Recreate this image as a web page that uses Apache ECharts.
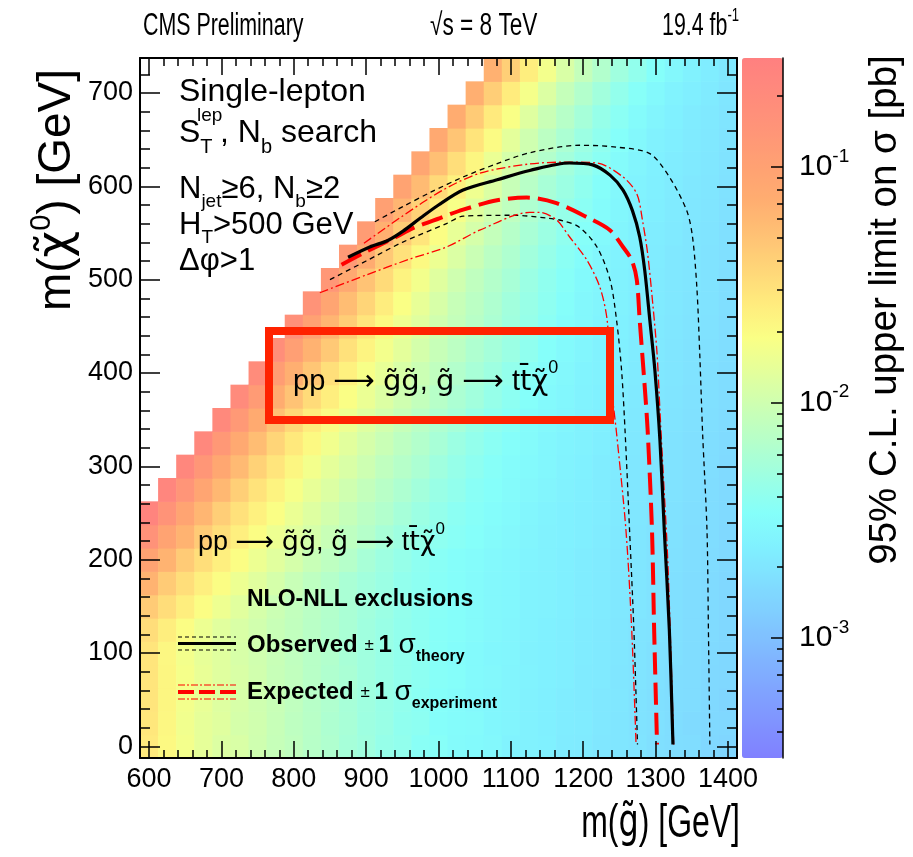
<!DOCTYPE html>
<html>
<head>
<meta charset="utf-8">
<script src="https://cdn.jsdelivr.net/npm/echarts@6/dist/echarts.min.js"></script>
<style>
html, body { margin: 0; padding: 0; background: #fff; }
#chart { width: 913px; height: 857px; }
</style>
</head>
<body>
<div id="chart"></div>
<script>
// bin centres (GeV)
const mgBins = [600, 625, 650, 675, 700, 725, 750, 775, 800, 825, 850, 875, 900, 925, 950, 975, 1000,
  1025, 1050, 1075, 1100, 1125, 1150, 1175, 1200, 1225, 1250, 1275, 1300, 1325, 1350, 1375, 1400]
const mlspBins = [0, 25, 50, 75, 100, 125, 150, 175, 200, 225, 250, 275, 300, 325, 350, 375, 400,
  425, 450, 475, 500, 525, 550, 575, 600, 625, 650, 675, 700, 725]

// 95% CL upper limit in fb, one row per m(LSP) bin, each row ends at m(gluino) = 1400
const limitFb = [
  [27, 21, 17, 14, 12, 11.5, 10, 8.8, 8.1, 7, 6.4, 5.5, 5.1, 4.4, 4.1, 3.6, 3.5, 3.1, 3.0, 2.9, 2.6, 2.5, 2.45, 2.25, 2.2, 2.05, 2.0, 1.95, 1.8, 1.75, 1.7, 1.55, 1.5],
  [28, 21.5, 16.5, 14, 12.8, 11, 10.2, 9, 7.8, 7.2, 6.2, 5.7, 4.9, 4.6, 4.0, 3.8, 3.3, 3.2, 3.1, 2.8, 2.7, 2.55, 2.4, 2.3, 2.25, 2.1, 2.0, 1.9, 1.85, 1.75, 1.65, 1.6, 1.55],
  [29, 22, 17, 14.5, 12.5, 11.2, 10, 9.1, 8, 7, 6.4, 5.6, 5.0, 4.5, 4.1, 3.7, 3.4, 3.2, 2.95, 2.85, 2.7, 2.5, 2.4, 2.3, 2.2, 2.1, 2.05, 1.9, 1.8, 1.75, 1.7, 1.6, 1.5],
  [29, 22, 17.5, 14.5, 12.8, 11.5, 10.3, 9, 8.2, 7.2, 6.4, 5.8, 5.1, 4.6, 4.1, 3.8, 3.5, 3.3, 3.0, 2.9, 2.7, 2.6, 2.45, 2.35, 2.2, 2.15, 2.0, 1.95, 1.85, 1.75, 1.7, 1.6, 1.55],
  [29, 21.5, 17, 14.2, 12.8, 11.3, 10.2, 9.1, 8.1, 7.2, 6.5, 5.7, 5.1, 4.6, 4.1, 3.8, 3.5, 3.25, 3.05, 2.85, 2.75, 2.55, 2.45, 2.35, 2.25, 2.15, 2.05, 1.95, 1.85, 1.8, 1.7, 1.62, 1.55],
  [33, 25, 19.5, 15.5, 13, 11.5, 10.3, 9.1, 8.2, 7.3, 6.5, 5.8, 5.1, 4.6, 4.15, 3.8, 3.5, 3.3, 3.1, 2.9, 2.75, 2.6, 2.45, 2.35, 2.25, 2.15, 2.05, 1.95, 1.9, 1.8, 1.7, 1.65, 1.55],
  [44, 33, 25, 19.5, 15.8, 13, 11, 9.5, 8.3, 7.4, 6.6, 5.8, 5.2, 4.7, 4.2, 3.85, 3.55, 3.3, 3.1, 2.9, 2.8, 2.6, 2.5, 2.4, 2.3, 2.2, 2.1, 2.0, 1.9, 1.8, 1.72, 1.65, 1.57],
  [65, 44, 32.5, 24.7, 19.5, 15.6, 13, 10.9, 9.1, 7.8, 6.8, 5.8, 5.2, 4.7, 4.15, 3.85, 3.55, 3.3, 3.1, 2.9, 2.8, 2.6, 2.5, 2.4, 2.3, 2.2, 2.1, 2.0, 1.9, 1.82, 1.72, 1.66, 1.56],
  [96, 65, 44, 32.5, 24.7, 19.5, 15.6, 13, 10.9, 9.1, 7.8, 6.8, 5.7, 4.9, 4.4, 3.9, 3.6, 3.35, 3.15, 2.95, 2.85, 2.65, 2.5, 2.4, 2.3, 2.2, 2.1, 2.0, 1.9, 1.85, 1.75, 1.68, 1.58],
  [156, 96, 65, 44, 32.5, 24.7, 19.5, 15.6, 13, 10.9, 9.1, 7.8, 6.8, 5.7, 4.9, 4.4, 3.9, 3.6, 3.4, 3.1, 2.9, 2.7, 2.55, 2.45, 2.35, 2.25, 2.12, 2.02, 1.92, 1.86, 1.76, 1.7, 1.6],
  [250, 150, 92, 62, 42, 31, 24, 19, 15, 12.5, 10.5, 8.8, 7.5, 6.5, 5.5, 4.75, 4.25, 3.75, 3.5, 3.25, 3.0, 2.75, 2.6, 2.48, 2.37, 2.27, 2.15, 2.05, 1.95, 1.88, 1.78, 1.72, 1.62],
  [240, 144, 89, 60, 41, 30, 23, 18, 14.4, 12, 10, 8.4, 7.2, 6.2, 5.3, 4.6, 4.1, 3.6, 3.4, 3.1, 2.9, 2.7, 2.55, 2.4, 2.28, 2.17, 2.05, 1.95, 1.9, 1.8, 1.72, 1.63],
  [230, 138, 85, 58, 39, 29, 22, 17, 13.8, 11.5, 9.7, 8.1, 6.9, 6.0, 5.1, 4.4, 3.9, 3.5, 3.2, 3.0, 2.8, 2.6, 2.45, 2.3, 2.2, 2.07, 1.97, 1.9, 1.8, 1.75, 1.63],
  [220, 132, 81, 55, 37, 27.5, 21, 16.5, 13.2, 11, 9.2, 7.7, 6.6, 5.7, 4.8, 4.2, 3.7, 3.3, 3.1, 2.85, 2.65, 2.5, 2.35, 2.22, 2.1, 2.0, 1.92, 1.82, 1.76, 1.65],
  [210, 126, 78, 52, 36, 26, 20, 15.8, 12.6, 10.5, 8.8, 7.4, 6.3, 5.5, 4.6, 4.0, 3.6, 3.2, 2.95, 2.75, 2.55, 2.4, 2.25, 2.12, 2.0, 1.95, 1.85, 1.78, 1.67],
  [200, 120, 74, 50, 34, 25, 19, 15, 12, 10, 8.4, 7.0, 6.0, 5.2, 4.4, 3.8, 3.4, 3.0, 2.8, 2.6, 2.45, 2.3, 2.15, 2.05, 1.97, 1.87, 1.8, 1.7],
  [190, 114, 70, 47.5, 32, 24, 18, 14.3, 11.4, 9.5, 8.0, 6.6, 5.7, 4.9, 4.2, 3.6, 3.2, 2.9, 2.65, 2.5, 2.35, 2.2, 2.08, 2.0, 1.9, 1.82, 1.72],
  [180, 108, 67, 45, 31, 22.5, 17, 13.5, 10.8, 9.0, 7.6, 6.3, 5.4, 4.7, 4.0, 3.4, 3.0, 2.75, 2.55, 2.4, 2.25, 2.12, 2.03, 1.92, 1.85, 1.74],
  [170, 102, 63, 42.5, 29, 21, 16, 12.8, 10.2, 8.5, 7.1, 6.0, 5.1, 4.4, 3.7, 3.2, 2.9, 2.65, 2.45, 2.3, 2.15, 2.05, 1.95, 1.88, 1.76],
  [150, 90, 55, 37.5, 25.5, 18.8, 14.3, 11.2, 9.0, 7.5, 6.3, 5.2, 4.5, 3.9, 3.3, 2.9, 2.7, 2.5, 2.35, 2.2, 2.08, 1.98, 1.9, 1.78],
  [135, 81, 50, 34, 23, 17, 12.8, 10.1, 8.1, 6.75, 5.7, 4.7, 4.0, 3.5, 3.0, 2.75, 2.5, 2.35, 2.2, 2.1, 2.0, 1.9, 1.78],
  [125, 75, 46, 31, 21, 15.6, 11.9, 9.4, 7.5, 6.25, 5.2, 4.4, 3.7, 3.25, 2.85, 2.6, 2.4, 2.25, 2.1, 2.0, 1.92, 1.8],
  [115, 69, 42.5, 29, 19.5, 14.4, 10.9, 8.6, 6.9, 5.75, 4.8, 4.0, 3.45, 3.0, 2.7, 2.45, 2.3, 2.15, 2.02, 1.95, 1.82],
  [105, 63, 39, 26, 18, 13, 10, 7.9, 6.3, 5.2, 4.4, 3.7, 3.15, 2.8, 2.5, 2.35, 2.2, 2.05, 1.98, 1.85],
  [95, 57, 35, 24, 16, 11.9, 9.0, 7.1, 5.7, 4.75, 4.0, 3.3, 2.9, 2.6, 2.4, 2.25, 2.1, 2.0, 1.88],
  [88, 53, 32.5, 22, 15, 11, 8.4, 6.6, 5.3, 4.4, 3.7, 3.1, 2.7, 2.45, 2.3, 2.15, 2.05, 1.92],
  [80, 48, 29.6, 20, 13.6, 10, 7.6, 6.0, 4.8, 4.0, 3.4, 2.9, 2.55, 2.35, 2.2, 2.1, 1.95],
  [74, 44, 27, 18.5, 12.6, 9.2, 7.0, 5.5, 4.4, 3.7, 3.1, 2.7, 2.45, 2.25, 2.12, 1.97],
  [70, 42, 26, 17.5, 12, 8.7, 6.6, 5.2, 4.2, 3.5, 2.95, 2.6, 2.35, 2.2, 2.0],
  [68, 41, 25, 17, 11.6, 8.5, 6.5, 5.1, 4.1, 3.4, 2.9, 2.55, 2.3, 2.1]
]

// exclusion contours [m(gluino), m(LSP)]
const observed = [[875, 524], [905, 535], [930, 542], [951, 552], [975, 566], [1000, 580], [1034, 596], [1081, 607],
  [1126, 617], [1181, 625], [1213, 623], [1237, 612], [1255, 596], [1268, 574], [1278, 546], [1285, 510],
  [1292, 457], [1299, 403], [1306, 328], [1312, 232], [1319, 125], [1324, 2]]
const observedUp = [[912, 562], [950, 578], [990, 594], [1034, 610], [1080, 624], [1126, 636], [1195, 644],
  [1246, 642], [1292, 635], [1319, 610], [1343, 574], [1351, 546], [1357, 492], [1361, 421], [1365, 335],
  [1371, 232], [1373, 125], [1375, 2]]
const observedDown = [[850, 500], [900, 520], [950, 540], [1011, 560], [1034, 568], [1103, 569], [1150, 566],
  [1172, 563], [1195, 556], [1219, 535], [1237, 500], [1246, 457], [1253, 403], [1258, 335], [1264, 232],
  [1270, 125], [1275, 2]]
const expected = [[866, 516], [895, 528], [942, 546], [964, 555], [1002, 566], [1034, 575], [1081, 585],
  [1122, 588], [1163, 582], [1205, 567], [1237, 553], [1255, 535], [1267, 521], [1274, 500], [1278, 457],
  [1285, 385], [1289, 339], [1295, 232], [1298, 125], [1302, 2]]
const expectedUp = [[897, 539], [950, 568], [1006, 596], [1057, 614], [1126, 624], [1181, 626], [1219, 625],
  [1255, 610], [1274, 592], [1282, 563], [1289, 528], [1296, 475], [1302, 421], [1306, 360], [1310, 300],
  [1317, 196], [1325, 2]]
const expectedDown = [[836, 486], [900, 505], [960, 522], [1011, 535], [1057, 553], [1126, 572], [1140, 572],
  [1163, 564], [1181, 546], [1205, 521], [1223, 492], [1233, 457], [1239, 385], [1246, 336], [1259, 232],
  [1267, 125], [1273, 2]]

const xTicks = [600, 700, 800, 900, 1000, 1100, 1200, 1300, 1400]
const yTicks = [0, 100, 200, 300, 400, 500, 600, 700]
const zDecades = [-3, -2, -1]
const zMinorPb = [4e-4, 5e-4, 6e-4, 7e-4, 8e-4, 9e-4, 2e-3, 3e-3, 4e-3, 5e-3, 6e-3, 7e-3, 8e-3, 9e-3,
  2e-2, 3e-2, 4e-2, 5e-2, 6e-2, 7e-2, 8e-2, 9e-2, 0.2]
const zRangePb = [3.1e-4, 0.29]

const palette = ['#8080ff', '#8093ff', '#80a5ff', '#80b8ff', '#80cbff', '#80ddff', '#80f0ff', '#85fffa',
  '#9cffe3', '#b4ffcb', '#cbffb4', '#e3ff9c', '#faff85', '#ffeb7d', '#ffd578', '#ffc074', '#ffac70',
  '#ffa073', '#ff9478', '#ff8a7c', '#ff8080']

const FONT = "'Liberation Sans', Arial, Helvetica, sans-serif"
const GREEK = "'DejaVu Sans', sans-serif"

const xMinor = []
for (let v = 600; v <= 1400; v += 20) xMinor.push(v)
const yMinor = []
for (let v = 0; v <= 720; v += 20) yMinor.push(v)

const heatData = []
limitFb.forEach((row, j) => {
  const first = mgBins.length - row.length
  row.forEach((fb, k) => {
    heatData.push([mgBins[first + k], mlspBins[j], Math.log10(fb / 1000)])
  })
})

const tickAxis = (extra) => Object.assign({
  type: 'value',
  gridIndex: 0,
  z: 10,
  splitLine: { show: false },
  axisLine: { show: false, onZero: false },
  axisLabel: { show: false },
  axisPointer: { show: false }
}, extra)

const frameLine = { show: true, onZero: false, lineStyle: { color: '#000', width: 2 } }
const tickStyle = { color: '#000', width: 1.5 }

const xRange = { min: 587.5, max: 1412.5 }
const yRange = { min: -12.5, max: 737.5 }

const rich = (size, weight, family) => ({ fontSize: size, fontFamily: family || FONT, fill: '#000', fontWeight: weight || 'normal' })

const text = (x, y, str, size, extra) => ({
  type: 'text', x: x, y: y, z: 100,
  style: Object.assign({ text: str, fontSize: size, fontFamily: FONT, fill: '#000', verticalAlign: 'middle' }, extra || {})
})

const lineEl = (x1, y1, x2, y2, color, width, dash) => ({
  type: 'line', z: 100,
  shape: { x1: x1, y1: y1, x2: x2, y2: y2 },
  style: { stroke: color, lineWidth: width, lineDash: dash || null }
})

const contour = (data, color, width, dash, z) => ({
  type: 'line', xAxisIndex: 0, yAxisIndex: 0, data: data, showSymbol: false, symbol: 'none',
  smooth: 0.3, z: z, silent: true,
  lineStyle: { color: color, width: width, type: dash }
})

// process label pp -> gluino gluino, gluino -> t tbar LSP
const processRich = (size) => ({
  sup: Object.assign(rich(Math.round(size * 0.62)), { verticalAlign: 'top' }),
  ar: rich(size, 'normal', GREEK),
  g: rich(size, 'normal', GREEK)
})
const processText = 'pp {ar|⟶} {g|g̃g̃}, {g|g̃} {ar|⟶} t{g|t̄χ̃}{sup|0}'

const subRich = (size) => ({ sub: Object.assign(rich(size), { verticalAlign: 'bottom' }) })

const chart = echarts.init(document.getElementById('chart'))

chart.setOption({
  animation: false,
  backgroundColor: '#fff',
  grid: [
    { left: 140, top: 58, width: 597, height: 700 },
    { left: 742, top: 58, width: 41, height: 700 }
  ],
  xAxis: [
    tickAxis(Object.assign({
      position: 'bottom', axisLine: frameLine,
      axisTick: { show: true, inside: true, length: 17, customValues: xTicks, lineStyle: tickStyle },
      axisLabel: { show: true, customValues: xTicks, fontSize: 27, fontFamily: FONT, color: '#000', margin: 8, formatter: (v) => String(v) }
    }, xRange)),
    tickAxis(Object.assign({ position: 'bottom', axisTick: { show: true, inside: true, length: 8, customValues: xMinor, lineStyle: tickStyle } }, xRange)),
    tickAxis(Object.assign({ position: 'top', axisLine: frameLine, axisTick: { show: true, inside: true, length: 17, customValues: xTicks, lineStyle: tickStyle } }, xRange)),
    tickAxis(Object.assign({ position: 'top', axisTick: { show: true, inside: true, length: 8, customValues: xMinor, lineStyle: tickStyle } }, xRange)),
    tickAxis({ gridIndex: 1, show: false, min: 0, max: 1 })
  ],
  yAxis: [
    tickAxis(Object.assign({
      position: 'left', axisLine: frameLine,
      axisTick: { show: true, inside: true, length: 20, customValues: yTicks, lineStyle: tickStyle },
      axisLabel: { show: true, customValues: yTicks, fontSize: 27, fontFamily: FONT, color: '#000', margin: 7, formatter: (v) => String(v) }
    }, yRange)),
    tickAxis(Object.assign({ position: 'left', axisTick: { show: true, inside: true, length: 10, customValues: yMinor, lineStyle: tickStyle } }, yRange)),
    tickAxis(Object.assign({ position: 'right', axisLine: frameLine, axisTick: { show: true, inside: true, length: 20, customValues: yTicks, lineStyle: tickStyle } }, yRange)),
    tickAxis(Object.assign({ position: 'right', axisTick: { show: true, inside: true, length: 10, customValues: yMinor, lineStyle: tickStyle } }, yRange)),
    tickAxis({
      gridIndex: 1, position: 'right',
      min: Math.log10(zRangePb[0]), max: Math.log10(zRangePb[1]),
      axisLine: { show: true, onZero: false, lineStyle: { color: '#000', width: 1.5 } },
      axisTick: { show: true, inside: true, length: 12, customValues: zDecades, lineStyle: tickStyle },
      axisLabel: {
        show: true, customValues: zDecades, margin: 16, fontSize: 30, fontFamily: FONT, color: '#000', lineHeight: 40,
        formatter: (v) => '10{sup|' + Math.round(v) + '}',
        rich: { sup: Object.assign(rich(19), { verticalAlign: 'top' }) }
      }
    }),
    tickAxis({
      gridIndex: 1, position: 'right',
      min: Math.log10(zRangePb[0]), max: Math.log10(zRangePb[1]),
      axisTick: { show: true, inside: true, length: 6, customValues: zMinorPb.map(Math.log10), lineStyle: tickStyle }
    })
  ],
  visualMap: {
    type: 'continuous',
    seriesIndex: 0,
    dimension: 2,
    min: Math.log10(zRangePb[0]),
    max: Math.log10(zRangePb[1]),
    inRange: { color: palette },
    left: 742, top: 58,
    itemWidth: 41, itemHeight: 700,
    padding: 0,
    calculable: false,
    hoverLink: false,
    show: true
  },
  series: [
    {
      type: 'custom',
      xAxisIndex: 0, yAxisIndex: 0,
      data: heatData,
      encode: { x: 0, y: 1 },
      clip: true,
      silent: true,
      z: 1,
      renderItem: function (params, api) {
        const a = api.coord([api.value(0) - 12.5, api.value(1) + 12.5])
        const b = api.coord([api.value(0) + 12.5, api.value(1) - 12.5])
        return {
          type: 'rect',
          shape: { x: a[0], y: a[1], width: b[0] - a[0] + 0.6, height: b[1] - a[1] + 0.6 },
          style: { fill: api.visual('color') }
        }
      }
    },
    contour(observedUp, '#000', 1.3, [5, 4], 3),
    contour(observedDown, '#000', 1.3, [5, 4], 3),
    contour(expectedUp, '#ff0000', 1.3, [9, 3, 2, 3], 3),
    contour(expectedDown, '#ff0000', 1.3, [9, 3, 2, 3], 3),
    contour(expected, '#ff0000', 4, [22, 8], 4),
    contour(observed, '#000', 3.2, 'solid', 5)
  ],
  graphic: [
    // header
    Object.assign(text(143, 26, 'CMS Preliminary', 31), { scaleX: 0.69 }),
    Object.assign(text(430, 26, '√s = 8 TeV', 31), { scaleX: 0.73 }),
    Object.assign(text(662, 26, '19.4 fb{sup|-1}', 31, { lineHeight: 40, rich: { sup: Object.assign(rich(19), { verticalAlign: 'top' }) } }), { scaleX: 0.69 }),
    // axis titles
    Object.assign(text(740, 824, 'm({g|g̃}) [GeV]', 47, { align: 'right', rich: { g: rich(47, 'normal', GREEK) } }), { scaleX: 0.68 }),
    Object.assign(text(57, 190, 'm({g|χ̃}{sup|0}) [GeV]', 46, {
      align: 'center', lineHeight: 60,
      rich: { sup: Object.assign(rich(29), { verticalAlign: 'top' }), g: rich(46, 'normal', GREEK) }
    }), { rotation: Math.PI / 2 }),
    Object.assign(text(885, 310, '95% C.L. upper limit on σ [pb]', 38.5, { align: 'center' }), { rotation: Math.PI / 2 }),
    // selection text
    text(179, 92, 'Single-lepton', 32),
    text(179, 133, 'S{sub|T}', 32, { lineHeight: 48, rich: subRich(20) }),
    text(197, 116, 'lep', 19),
    text(220, 133, ', N{sub|b} search', 32, { lineHeight: 48, rich: subRich(20) }),
    text(179, 189, 'N{sub|jet}≥6, N{sub|b}≥2', 31, { lineHeight: 44, rich: subRich(19) }),
    text(179, 225, 'H{sub|T}>500 GeV', 31, { lineHeight: 44, rich: subRich(19) }),
    text(179, 261, 'Δφ>1', 31),
    // process
    text(198, 543, processText, 27, { lineHeight: 44, rich: processRich(27) }),
    // legend
    text(247, 600, 'NLO-NLL exclusions', 23, { fontWeight: 'bold' }),
    lineEl(178, 637, 236, 637, '#000', 1.2, [4, 3]),
    lineEl(178, 643.5, 236, 643.5, '#000', 3.2),
    lineEl(178, 650, 236, 650, '#000', 1.2, [4, 3]),
    text(247, 645, 'Observed {pm|± }{one|1 }{sig|σ}{sub|theory}', 24, {
      fontWeight: 'bold', lineHeight: 40,
      rich: {
        pm: rich(17), one: rich(24, 'bold'), sig: rich(28),
        sub: Object.assign(rich(16, 'bold'), { verticalAlign: 'bottom' })
      }
    }),
    lineEl(178, 685, 236, 685, '#ff0000', 1.2, [7, 2, 2, 2]),
    lineEl(178, 692, 236, 692, '#ff0000', 4, [16, 5]),
    lineEl(178, 699, 236, 699, '#ff0000', 1.2, [7, 2, 2, 2]),
    text(247, 692, 'Expected {pm|± }{one|1 }{sig|σ}{sub|experiment}', 24, {
      fontWeight: 'bold', lineHeight: 40,
      rich: {
        pm: rich(17), one: rich(24, 'bold'), sig: rich(28),
        sub: Object.assign(rich(16, 'bold'), { verticalAlign: 'bottom' })
      }
    }),
    // highlighted box
    {
      type: 'rect', z: 100,
      shape: { x: 269, y: 331, width: 341, height: 89 },
      style: { fill: 'rgba(0,0,0,0)', stroke: '#ff2200', lineWidth: 8 }
    },
    text(293, 382, processText, 29, { lineHeight: 46, rich: processRich(29) })
  ]
})
</script>
</body>
</html>
